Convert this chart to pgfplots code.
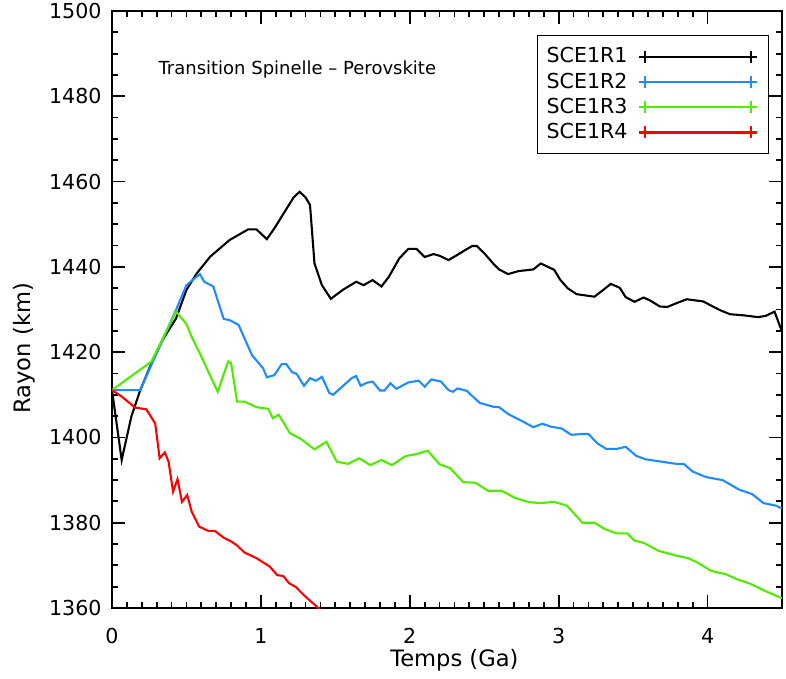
\documentclass[border=0pt]{standalone}
\usepackage{fontspec}
\setmainfont{DejaVu Sans}
\usepackage{pgfplots}
\pgfplotsset{compat=1.18}
\definecolor{cblue}{RGB}{30,140,255}
\definecolor{cgreen}{RGB}{80,235,0}
\definecolor{cred}{RGB}{255,0,0}
\begin{document}
\begin{tikzpicture}
\begin{axis}[
  name=ax,
  scale only axis,
  width=335pt, height=298.5pt,
  xmin=0, xmax=4.5, ymin=1360, ymax=1500,
  xtick={0,1,2,3,4}, ytick={1360,1380,...,1500},
  minor x tick num=9, minor y tick num=3,
  major tick length=6.5pt, minor tick length=3.2pt,
  tick align=inside,
  xtick pos=both, ytick pos=both,
  axis line style={line width=1.1pt},
  every tick/.style={line width=0.9pt, black},
  /pgf/number format/assume math mode=true,
  /pgf/number format/1000 sep={},
  tick label style={font=\fontsize{10.3}{12}\selectfont},
  xticklabel style={yshift=-6.5pt},
  yticklabel style={xshift=-1.7pt},
  xlabel={Temps (Ga)}, ylabel={Rayon (km)},
  label style={font=\fontsize{11.3}{13.5}\selectfont},
  xlabel style={at={(axis description cs:0.511,0)}, anchor=center, yshift=-26pt},
  ylabel style={at={(axis description cs:-0.131,0.435)}, anchor=center},
  legend style={at={(rel axis cs:0.981,0.960)}, anchor=north east, draw=black, line width=0.6pt,
    font=\fontsize{10.3}{12}\selectfont, legend plot pos=right, row sep=-0.5pt,
    legend cell align=left, inner xsep=2.5pt, inner ysep=4pt},
  legend image code/.code={\path (0pt,0pt) (65pt,0pt);
    \draw[#1,mark=+,mark size=3pt] plot coordinates {(6pt,0pt) (59pt,0pt)};},
]
\addplot[black, line width=1.05pt] coordinates {
(0,1411.1) (0.065,1394.7) (0.13,1404.9) (0.19,1411.1) (0.27,1417.8) (0.34,1422.9)
(0.43,1427.9) (0.50,1434.6) (0.57,1438.5) (0.66,1442.4) (0.79,1446.3) (0.915,1448.8)
(0.97,1448.8) (1.04,1446.5) (1.09,1449.0) (1.22,1456.3) (1.26,1457.6) (1.30,1456.3)
(1.33,1454.5) (1.36,1440.8) (1.41,1435.7) (1.47,1432.5) (1.55,1434.6) (1.64,1436.5)
(1.69,1435.7) (1.75,1436.9) (1.81,1435.4) (1.86,1437.7) (1.93,1442.0) (1.99,1444.2)
(2.045,1444.2) (2.10,1442.3) (2.16,1443.0) (2.20,1442.6) (2.26,1441.6) (2.31,1442.6)
(2.38,1444.1) (2.42,1444.9) (2.45,1444.9) (2.50,1443.2) (2.56,1440.8) (2.60,1439.4)
(2.66,1438.3) (2.73,1439.0) (2.83,1439.4) (2.88,1440.8) (2.97,1439.3) (3.01,1437.0)
(3.06,1435.0) (3.12,1433.6) (3.24,1433.0) (3.30,1434.6) (3.35,1436.0) (3.41,1435.1)
(3.45,1432.9) (3.51,1431.8) (3.57,1432.8) (3.61,1432.2) (3.68,1430.7) (3.73,1430.6)
(3.80,1431.6) (3.86,1432.4) (3.97,1431.9) (4.08,1429.9) (4.15,1428.9) (4.25,1428.6)
(4.34,1428.2) (4.39,1428.5) (4.45,1429.5) (4.50,1424.8)
};
\addlegendentry{SCE1R1}
\addplot[cblue, line width=1.05pt] coordinates {
(0,1411.1) (0.19,1411.1) (0.28,1418.2) (0.43,1429.9) (0.50,1435.7) (0.59,1438.3)
(0.62,1436.5) (0.68,1435.4) (0.75,1427.8) (0.79,1427.5) (0.85,1426.4) (0.94,1419.3)
(1.015,1416.2) (1.04,1414.1) (1.09,1414.6) (1.14,1417.2) (1.17,1417.2) (1.21,1415.3)
(1.24,1414.9) (1.29,1412.1) (1.33,1413.9) (1.37,1413.3) (1.41,1414.2) (1.46,1410.4)
(1.485,1410.0) (1.61,1413.9) (1.64,1414.4) (1.67,1412.1) (1.71,1412.8) (1.75,1413.1)
(1.80,1411.0) (1.83,1411.0) (1.87,1412.7) (1.91,1411.4) (1.99,1412.9) (2.06,1413.3)
(2.10,1411.9) (2.145,1413.6) (2.21,1413.1) (2.26,1411.1) (2.29,1410.7) (2.32,1411.5)
(2.385,1410.9) (2.42,1409.7) (2.47,1408.1) (2.56,1407.2) (2.60,1407.1) (2.66,1405.5)
(2.75,1403.9) (2.83,1402.4) (2.89,1403.2) (2.95,1402.5) (3.02,1402.1) (3.085,1400.6)
(3.15,1400.8) (3.20,1400.8) (3.26,1398.6) (3.32,1397.3) (3.39,1397.3) (3.45,1397.8)
(3.52,1395.7) (3.58,1394.9) (3.655,1394.5) (3.79,1393.8) (3.84,1393.8) (3.90,1392.0)
(3.99,1390.7) (4.10,1390.0) (4.21,1387.8) (4.30,1386.7) (4.375,1384.6) (4.46,1384.0)
(4.50,1383.3)
};
\addlegendentry{SCE1R2}
\addplot[cgreen, line width=1.05pt] coordinates {
(0,1411.1) (0.265,1417.8) (0.43,1429.5) (0.50,1426.6) (0.535,1423.6) (0.59,1419.7)
(0.71,1410.7) (0.78,1417.8) (0.80,1417.4) (0.84,1408.4) (0.89,1408.4) (0.97,1407.1)
(1.05,1406.7) (1.08,1404.5) (1.12,1405.3) (1.195,1401.0) (1.27,1399.6) (1.36,1397.2)
(1.44,1399.0) (1.51,1394.3) (1.585,1393.8) (1.66,1395.1) (1.735,1393.5) (1.81,1394.7)
(1.88,1393.5) (1.97,1395.6) (2.045,1396.1) (2.12,1396.9) (2.20,1393.7) (2.27,1392.8)
(2.36,1389.5) (2.44,1389.4) (2.525,1387.5) (2.615,1387.5) (2.715,1385.7) (2.805,1384.8)
(2.88,1384.6) (2.97,1384.9) (3.055,1384.0) (3.16,1380.0) (3.24,1380.0) (3.31,1378.5)
(3.39,1377.5) (3.46,1377.5) (3.51,1375.8) (3.57,1375.3) (3.67,1373.4) (3.80,1372.2)
(3.87,1371.7) (3.935,1370.6) (4.025,1368.7) (4.125,1367.9) (4.20,1366.7) (4.28,1365.8)
(4.38,1364.1) (4.50,1362.3)
};
\addlegendentry{SCE1R3}
\addplot[cred, line width=1.05pt] coordinates {
(0,1411.1) (0.065,1409.6) (0.155,1407.0) (0.23,1406.6) (0.29,1403.3) (0.32,1395.1)
(0.355,1396.5) (0.38,1394.3) (0.41,1387.3) (0.44,1390.2) (0.47,1384.9) (0.505,1386.5)
(0.535,1382.6) (0.585,1379.1) (0.645,1378.1) (0.69,1378.1) (0.75,1376.5) (0.80,1375.6)
(0.835,1374.8) (0.89,1373.0) (0.97,1371.7) (1.06,1369.7) (1.11,1367.7) (1.15,1367.5)
(1.19,1365.8) (1.235,1364.9) (1.295,1362.8) (1.37,1360.5) (1.40,1359.5)
};
\addlegendentry{SCE1R4}
\node[anchor=west, font=\fontsize{9}{11}\selectfont, inner sep=0pt] at (axis cs:0.31,1486.2) {Transition Spinelle – Perovskite};
\end{axis}
\pgfresetboundingbox
\path[use as bounding box] ([shift={(-56pt,-35.5pt)}]ax.south west) rectangle ([shift={(337pt,304pt)}]ax.south west);
\end{tikzpicture}
\end{document}
